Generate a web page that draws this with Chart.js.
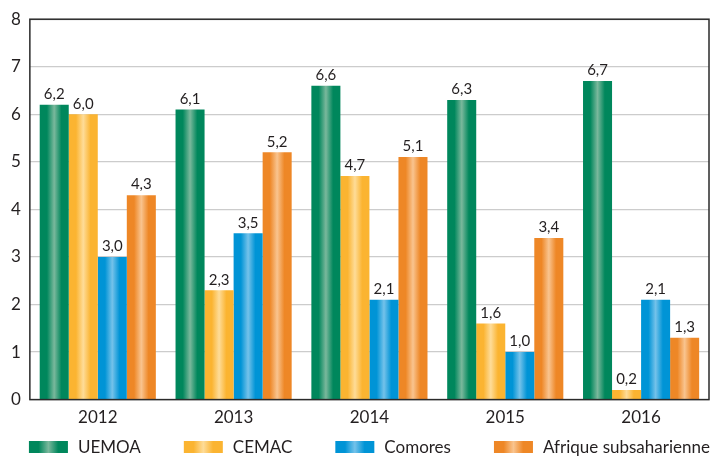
<!DOCTYPE html>
<html>
<head>
<meta charset="utf-8">
<script src="https://cdn.jsdelivr.net/npm/chart.js@4/dist/chart.umd.min.js"></script>
<style>
html,body{margin:0;padding:0;background:#fff;}
#wrap{width:716px;height:456px;position:relative;}
</style>
</head>
<body>
<div id="wrap"><canvas id="c" width="716" height="456"></canvas></div>
<script>
const categories = ['2012', '2013', '2014', '2015', '2016'];
const seriesNames = ['UEMOA', 'CEMAC', 'Comores', 'Afrique subsaharienne'];
const uemoa = [6.2, 6.1, 6.6, 6.3, 6.7];
const cemac = [6.0, 2.3, 4.7, 1.6, 0.2];
const comores = [3.0, 3.5, 2.1, 1.0, 2.1];
const afrique = [4.3, 5.2, 5.1, 3.4, 1.3];
const yTicks = [0, 1, 2, 3, 4, 5, 6, 7, 8];

const palettes = [
  {edge: '#00875c', mid: '#7ab89c'},
  {edge: '#fbb431', mid: '#fedc98'},
  {edge: '#0094d6', mid: '#74c2ea'},
  {edge: '#ee8726', mid: '#f9c48f'}
];
const CAT_PCT = 0.855;
const FONT = 'Lato, "DejaVu Sans", sans-serif';
const TEXT = '#231f20';

function makeGrad(ctx, x0, x1, p) {
  const g = ctx.createLinearGradient(x0, 0, x1, 0);
  g.addColorStop(0, p.edge);
  g.addColorStop(0.25, p.edge);
  g.addColorStop(0.5, p.mid);
  g.addColorStop(0.75, p.edge);
  g.addColorStop(1, p.edge);
  return g;
}

function barFill(context) {
  const chart = context.chart;
  const p = palettes[context.datasetIndex];
  const xs = chart.scales.x;
  if (!xs || !chart.chartArea) return p.edge;
  const i = context.dataIndex;
  const center = xs.getPixelForValue(i);
  const cw = xs.width / categories.length;
  const group = cw * CAT_PCT;
  const bw = group / seriesNames.length;
  const left = center - group / 2 + context.datasetIndex * bw;
  return makeGrad(chart.ctx, left, left + bw, p);
}

const frame = {
  id: 'frame',
  afterDatasetsDraw(chart) {
    const a = chart.chartArea, ctx = chart.ctx;
    ctx.save();
    ctx.strokeStyle = '#2a2a2a';
    ctx.lineWidth = 1.5;
    ctx.strokeRect(a.left, a.top, a.right - a.left, a.bottom - a.top);
    ctx.restore();
  }
};

const valueLabels = {
  id: 'valueLabels',
  afterDatasetsDraw(chart) {
    const ctx = chart.ctx;
    ctx.save();
    ctx.font = '15px ' + FONT;
    ctx.fillStyle = TEXT;
    ctx.textAlign = 'center';
    ctx.textBaseline = 'bottom';
    chart.data.datasets.forEach((ds, di) => {
      const meta = chart.getDatasetMeta(di);
      meta.data.forEach((bar, i) => {
        const v = ds.data[i];
        ctx.fillText(v.toFixed(1).replace('.', ','), bar.x, bar.y - 3);
      });
    });
    ctx.restore();
  }
};

// Bottom legend drawn from the series names and palettes
const LEG = {boxW: 39, boxH: 12, gapText: 10, gapItem: 43, font: 17, cy: 447};
const bottomLegend = {
  id: 'bottomLegend',
  afterDraw(chart) {
    const ctx = chart.ctx, a = chart.chartArea;
    ctx.save();
    ctx.font = LEG.font + 'px ' + FONT;
    const widths = seriesNames.map(n => LEG.boxW + LEG.gapText + ctx.measureText(n).width);
    const total = widths.reduce((s, w) => s + w, 0) + LEG.gapItem * (seriesNames.length - 1);
    let x = (a.left + a.right) / 2 - total / 2;
    ctx.textBaseline = 'middle';
    ctx.textAlign = 'left';
    seriesNames.forEach((n, k) => {
      ctx.fillStyle = makeGrad(ctx, x, x + LEG.boxW, palettes[k]);
      ctx.fillRect(x, LEG.cy - LEG.boxH / 2, LEG.boxW, LEG.boxH);
      ctx.fillStyle = TEXT;
      ctx.fillText(n, x + LEG.boxW + LEG.gapText, LEG.cy + 1);
      x += widths[k] + LEG.gapItem;
    });
    ctx.restore();
  }
};

const seriesData = [uemoa, cemac, comores, afrique];

new Chart(document.getElementById('c'), {
  type: 'bar',
  data: {
    labels: categories,
    datasets: seriesNames.map((n, k) => ({
      label: n,
      data: seriesData[k],
      backgroundColor: barFill,
      borderWidth: 0,
      barPercentage: 1.0,
      categoryPercentage: CAT_PCT
    }))
  },
  options: {
    responsive: false,
    animation: false,
    layout: {padding: {left: 2, right: 7, top: 18, bottom: 20}},
    scales: {
      x: {
        grid: {display: false, drawTicks: false},
        border: {display: false},
        ticks: {color: TEXT, font: {family: FONT, size: 17}, padding: 8}
      },
      y: {
        min: 0, max: 8,
        afterBuildTicks(axis) { axis.ticks = yTicks.map(v => ({value: v})); },
        grid: {color: '#cccccc', lineWidth: 1.2, drawTicks: false},
        border: {display: false},
        ticks: {color: TEXT, font: {family: FONT, size: 17}, padding: 9}
      }
    },
    plugins: {
      tooltip: {enabled: false},
      legend: {display: false}
    }
  },
  plugins: [frame, valueLabels, bottomLegend]
});
</script>
</body>
</html>
